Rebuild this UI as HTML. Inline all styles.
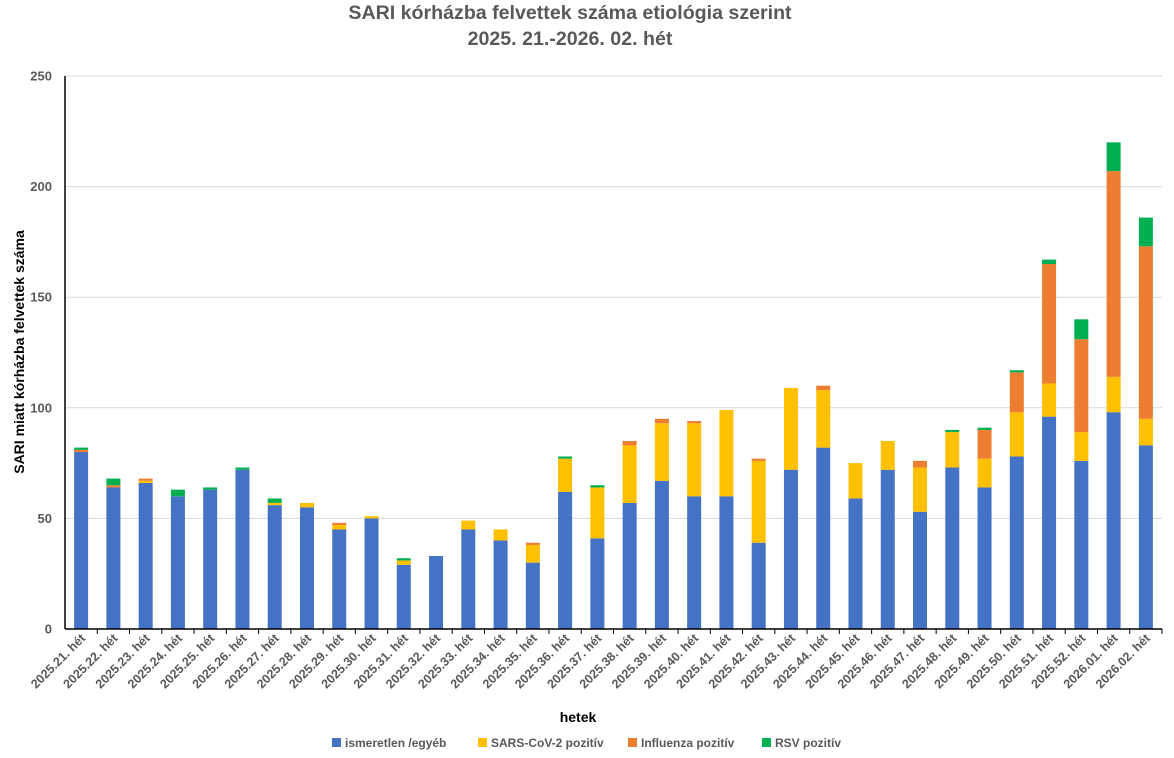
<!DOCTYPE html>
<html><head><meta charset="utf-8"><style>
html,body{margin:0;padding:0;background:#fff;}
svg{display:block;font-family:"Liberation Sans",Arial,sans-serif;}
</style></head><body>
<svg id="c" width="1174" height="758" viewBox="0 0 1174 758" xmlns="http://www.w3.org/2000/svg">
<text x="570" y="19" text-anchor="middle" font-size="19.6" font-weight="bold" fill="#595959">SARI kórházba felvettek száma etiológia szerint</text>
<text x="570" y="45" text-anchor="middle" font-size="19.6" font-weight="bold" fill="#595959">2025. 21.-2026. 02. hét</text>
<g id="grid"></g>
<g id="bars"></g>
<line x1="65" y1="76" x2="65" y2="629" stroke="#000" stroke-width="1.5"/>
<line x1="65" y1="629" x2="1162" y2="629" stroke="#000" stroke-width="1.5"/>
<g id="ticks"></g>
<text transform="translate(24,352) rotate(-90)" text-anchor="middle" font-size="14" font-weight="bold" fill="#000">SARI miatt kórházba felvettek száma</text>
<text x="578" y="722" text-anchor="middle" font-size="14" font-weight="bold" fill="#000">hetek</text>
<g font-size="12" font-weight="bold" fill="#595959">
<rect x="332" y="738" width="9" height="9" fill="#4472C4"/><text x="345" y="747">ismeretlen /egyéb</text>
<rect x="478" y="738" width="9" height="9" fill="#FFC000"/><text x="491" y="747">SARS-CoV-2 pozitív</text>
<rect x="628" y="738" width="9" height="9" fill="#ED7D31"/><text x="641" y="747">Influenza pozitív</text>
<rect x="762" y="738" width="9" height="9" fill="#00B050"/><text x="775" y="747">RSV pozitív</text>
</g>
</svg>
<script>
var d=[[80,0,1,1],[64,0,1,3],[66,1,1,0],[60,0,0,3],[63,0,0,1],[72,0,0,1],[56,1,0,2],[55,2,0,0],[45,2,1,0],[50,1,0,0],[29,2,0,1],[33,0,0,0],[45,4,0,0],[40,5,0,0],[30,8,1,0],[62,15,0,1],[41,23,0,1],[57,26,2,0],[67,26,2,0],[60,33,1,0],[60,39,0,0],[39,37,1,0],[72,37,0,0],[82,26,2,0],[59,16,0,0],[72,13,0,0],[53,20,3,0],[73,16,0,1],[64,13,13,1],[78,20,18,1],[96,15,54,2],[76,13,42,9],[98,16,93,13],[83,12,78,13]];
var labs=[];for(var w=21;w<=52;w++)labs.push("2025."+w+". hét");labs.push("2026.01. hét","2026.02. hét");
var col=["#4472C4","#FFC000","#ED7D31","#00B050"];
var ns="http://www.w3.org/2000/svg";
function el(t,a,p,txt){var e=document.createElementNS(ns,t);for(var k in a)e.setAttribute(k,a[k]);if(txt)e.textContent=txt;document.getElementById(p).appendChild(e);return e;}
var y0=629,s=(629-76)/250,x0=65,cw=(1162-65)/34;
for(var v=0;v<=250;v+=50){var y=y0-v*s;if(v>0)el("line",{x1:65,x2:1162,y1:y,y2:y,stroke:"#d9d9d9","stroke-width":1},"grid");
el("text",{x:52,y:y+4.5,"text-anchor":"end","font-size":13,"font-weight":"bold",fill:"#595959"},"grid",""+v);}
for(var i=0;i<34;i++){var cx=x0+cw*(i+0.5),cum=0;
for(var j=0;j<4;j++){var h=d[i][j]*s;if(h>0)el("rect",{x:cx-7,y:y0-(cum+d[i][j])*s,width:14,height:h,fill:col[j]},"bars");cum+=d[i][j];}
el("line",{x1:x0+cw*(i+1),x2:x0+cw*(i+1),y1:629,y2:634,stroke:"#000"},"ticks");
el("text",{transform:"translate("+(cx+5)+",639) rotate(-45)","text-anchor":"end","font-size":12.5,"font-weight":"bold",fill:"#595959"},"ticks",labs[i]);}
</script>
</body></html>
